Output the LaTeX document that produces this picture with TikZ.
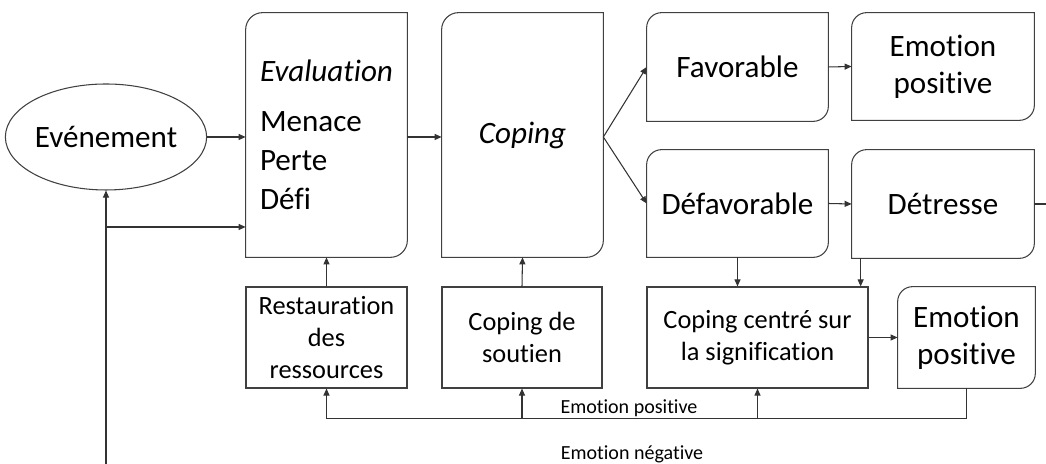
\documentclass[tikz,border=0pt]{standalone}
\usepackage{fontspec}
\setmainfont{Carlito}[Ligatures=NoCommon]
\usetikzlibrary{arrows.meta,shapes.geometric}

\tikzset{
  box/.style={inner sep=0pt, align=center, font=\fontsize{17.7}{21.2}\selectfont},
  sqbox/.style={box, draw=black!75, line width=0.6pt, font=\fontsize{15}{18.2}\selectfont},
  conn/.style={draw=black!80, line width=0.6pt, -{Triangle[length=4pt,width=3.4pt]}},
  plain/.style={draw=black!80, line width=0.6pt},
  lbl/.style={inner sep=0pt, font=\fontsize{11.4}{13}\selectfont}
}

% box with rounded top left and bottom right corners
\newcommand{\cutbox}[2][0.34cm]{%
  \draw[draw=black!75, line width=0.6pt] ([xshift=#1]#2.north west) -- (#2.north east) -- ([yshift=#1]#2.south east)
    arc[start angle=0, end angle=-90, radius=#1] -- (#2.south west) -- ([yshift=-#1]#2.north west)
    arc[start angle=180, end angle=90, radius=#1] -- cycle;}

\begin{document}
\begin{tikzpicture}
\useasboundingbox (0,0) rectangle (20.92,9.28);

  \begin{scope}
% top row
\node[box, ellipse, draw=black!75, line width=0.6pt, minimum width=3.86cm, minimum height=2.12cm] (ev) at (2.12,6.54) {Evénement};
\node[box, align=left, minimum width=3.22cm, minimum height=4.88cm, font=\fontsize{17.7}{22.2}\selectfont] (eval) at (6.53,6.58) {\textit{Evaluation}\\[6pt]Menace\\Perte\\Défi};
\node[box, minimum width=3.22cm, minimum height=4.88cm] (cop) at (10.45,6.58) {\textit{Coping}};
\node[box, minimum width=3.62cm, minimum height=2.16cm] (fav) at (14.75,7.94) {Favorable};
\node[box, minimum width=3.62cm, minimum height=2.14cm] (defav) at (14.75,5.21) {Défavorable};
\node[box, minimum width=3.64cm, minimum height=2.14cm] (epos) at (18.86,7.95) {Emotion\\positive};
\node[box, minimum width=3.64cm, minimum height=2.16cm] (detr) at (18.86,5.20) {Détresse};
\cutbox{eval}
\cutbox{cop}
\cutbox[0.3cm]{fav}
\cutbox[0.3cm]{defav}
\cutbox[0.3cm]{epos}
\cutbox[0.3cm]{detr}

% bottom row
\node[sqbox, minimum width=3.22cm, minimum height=2.02cm] (rest) at (6.53,2.53) {Restauration\\des\\ressources};
\node[sqbox, minimum width=3.2cm, minimum height=2.02cm] (sout) at (10.44,2.53) {Coping de\\soutien};
\node[sqbox, minimum width=4.42cm, minimum height=2.02cm] (sign) at (15.15,2.53) {Coping centré sur\\la signification};
\node[box, minimum width=2.74cm, minimum height=2.02cm] (epos2) at (19.33,2.53) {Emotion\\positive};
\cutbox[0.3cm]{epos2}

\coordinate (in) at (2.12,0);
\coordinate (br) at (2.12,4.74);
\coordinate (out) at (20.92,0 |- detr.east);
\coordinate (fb) at ([yshift=-0.6cm]epos2.south);

% connectors
\draw[conn] (ev.east) -- (ev.east -| eval.west);
\draw[conn] (eval.east |- ev.east) -- (cop.west |- ev.east);
\draw[conn] (cop.east |- ev.east) -- (fav.west);
\draw[conn] (cop.east |- ev.east) -- (defav.west);
\draw[conn] (fav.east) -- (epos.west);
\draw[conn] (defav.east) -- (detr.west);
\draw[plain] (detr.east) -- (out);
\draw[conn] (rest.north) -- (eval.south);
\draw[conn] (sout.north) -- (cop.south);
\draw[conn] (defav.south) -- (defav.south |- sign.north);
\draw[conn] ([xshift=0.18cm]detr.south west) -- ([xshift=0.18cm]detr.south west |- sign.north);
\draw[conn] (sign.east) -- (epos2.west);
\draw[conn] (epos2.south) -- (fb) -| (rest.south);
\draw[conn] (sout.south |- fb) -- (sout.south);
\draw[conn] (sign.south |- fb) -- (sign.south);
\draw[conn] (in) -- (ev.south);
\draw[conn] (br) -- (br -| eval.west);

\node[lbl] (lpos) at (12.58,1.12) {Emotion positive};
\node[lbl] (lneg) at (12.64,0.2) {Emotion négative};
\end{scope}

\end{tikzpicture}
\end{document}
